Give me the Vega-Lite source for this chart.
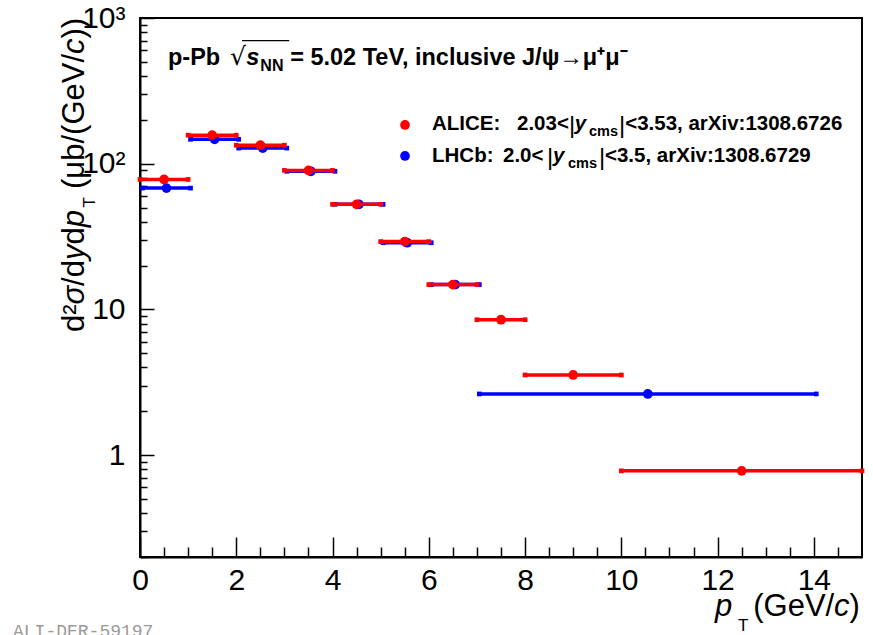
{
  "$schema": "https://vega.github.io/schema/vega-lite/v6.json",
  "width": 722,
  "height": 539,
  "autosize": {"type": "none"},
  "padding": {"left": 140, "top": 18, "right": 11, "bottom": 78},
  "background": "white",
  "config": {
    "view": {"stroke": "black", "strokeWidth": 2},
    "font": "Liberation Sans"
  },
  "resolve": {"axis": {"x": "independent", "y": "independent"}},
  "data": {
    "values": [
      {"exp": "LHCb", "x": 0.55, "lo": 0.05, "hi": 1.05, "y": 68},
      {"exp": "LHCb", "x": 1.55, "lo": 1.05, "hi": 2.05, "y": 147},
      {"exp": "LHCb", "x": 2.55, "lo": 2.05, "hi": 3.05, "y": 128},
      {"exp": "LHCb", "x": 3.55, "lo": 3.05, "hi": 4.05, "y": 88.7},
      {"exp": "LHCb", "x": 4.55, "lo": 4.05, "hi": 5.05, "y": 52.6},
      {"exp": "LHCb", "x": 5.55, "lo": 5.05, "hi": 6.05, "y": 28.7},
      {"exp": "LHCb", "x": 6.55, "lo": 6.05, "hi": 7.05, "y": 14.8},
      {"exp": "LHCb", "x": 10.55, "lo": 7.05, "hi": 14.05, "y": 2.63},
      {"exp": "ALICE", "x": 0.5, "lo": 0, "hi": 1, "y": 78},
      {"exp": "ALICE", "x": 1.5, "lo": 1, "hi": 2, "y": 157},
      {"exp": "ALICE", "x": 2.5, "lo": 2, "hi": 3, "y": 134},
      {"exp": "ALICE", "x": 3.5, "lo": 3, "hi": 4, "y": 90},
      {"exp": "ALICE", "x": 4.5, "lo": 4, "hi": 5, "y": 52.6},
      {"exp": "ALICE", "x": 5.5, "lo": 5, "hi": 6, "y": 29.2},
      {"exp": "ALICE", "x": 6.5, "lo": 6, "hi": 7, "y": 14.8},
      {"exp": "ALICE", "x": 7.5, "lo": 7, "hi": 8, "y": 8.5},
      {"exp": "ALICE", "x": 9, "lo": 8, "hi": 10, "y": 3.55},
      {"exp": "ALICE", "x": 12.5, "lo": 10, "hi": 15, "y": 0.78}
    ]
  },
  "layer": [
    {
      "transform": [{"filter": "datum.exp == 'LHCb'"}],
      "mark": {"type": "rule", "color": "#0000ff", "strokeWidth": 3.5},
      "encoding": {
        "x": {"field": "lo", "type": "quantitative", "title": null,
          "scale": {"domain": [0, 15], "nice": false, "zero": false},
          "axis": {
            "orient": "bottom",
            "values": [0, 2, 4, 6, 8, 10, 12, 14],
            "format": "d",
            "labelOverlap": false, "labelFlush": false, "labelBound": false,
            "labelFont": "Liberation Sans", "labelFontSize": 30, "labelColor": "black",
            "labelPadding": 28,
            "tickSize": -20,
            "tickColor": "black", "tickWidth": 1.5,
            "domainColor": "black", "domainWidth": 2, "grid": false, "title": null
          }
        },
        "x2": {"field": "hi"},
        "y": {"field": "y", "type": "quantitative", "title": null,
          "scale": {"type": "log", "domain": [0.2, 1000], "nice": false},
          "axis": {
            "orient": "left",
            "values": [1, 10, 100, 1000],
            "labelExpr": "datum.value == 1 ? '1' : datum.value == 10 ? '10' : datum.value == 100 ? '10²' : '10³'",
            "labelOverlap": false, "labelFlush": false, "labelBound": false,
            "labelFont": "Liberation Sans", "labelFontSize": 30, "labelColor": "black",
            "labelPadding": 29,
            "tickSize": -14,
            "tickColor": "black", "tickWidth": 1.5,
            "domainColor": "black", "domainWidth": 2, "grid": false, "title": null
          }
        }
      }
    },
    {
      "transform": [{"filter": "datum.exp == 'LHCb'"}, {"fold": ["lo", "hi"], "as": ["end", "xe"]}],
      "mark": {"type": "point", "shape": "square", "filled": true, "color": "#0000ff", "size": 22, "opacity": 1},
      "encoding": {
        "x": {"field": "xe", "type": "quantitative", "axis": null},
        "y": {"field": "y", "type": "quantitative", "axis": null}
      }
    },
    {
      "transform": [{"filter": "datum.exp == 'LHCb'"}],
      "mark": {"type": "point", "shape": "circle", "filled": true, "color": "#0000ff", "size": 95, "opacity": 1},
      "encoding": {
        "x": {"field": "x", "type": "quantitative", "axis": null},
        "y": {"field": "y", "type": "quantitative", "axis": null}
      }
    },
    {
      "transform": [{"filter": "datum.exp == 'ALICE'"}],
      "mark": {"type": "rule", "color": "#ff0000", "strokeWidth": 3.5},
      "encoding": {
        "x": {"field": "lo", "type": "quantitative", "title": null,
          "axis": {
            "orient": "bottom",
            "values": [0.5,1,1.5,2.5,3,3.5,4.5,5,5.5,6.5,7,7.5,8.5,9,9.5,10.5,11,11.5,12.5,13,13.5,14.5],
            "labels": false, "domain": false, "grid": false, "title": null,
            "tickSize": -10, "tickColor": "black", "tickWidth": 1.5
          }
        },
        "x2": {"field": "hi"},
        "y": {"field": "y", "type": "quantitative", "title": null,
          "axis": {
            "orient": "left",
            "values": [0.2,0.3,0.4,0.5,0.6,0.7,0.8,0.9,2,3,4,5,6,7,8,9,20,30,40,50,60,70,80,90,200,300,400,500,600,700,800,900],
            "labels": false, "domain": false, "grid": false, "title": null,
            "tickSize": -7, "tickColor": "black", "tickWidth": 1.5
          }
        }
      }
    },
    {
      "transform": [{"filter": "datum.exp == 'ALICE'"}, {"fold": ["lo", "hi"], "as": ["end", "xe"]}],
      "mark": {"type": "point", "shape": "square", "filled": true, "color": "#ff0000", "size": 22, "opacity": 1},
      "encoding": {
        "x": {"field": "xe", "type": "quantitative", "axis": null},
        "y": {"field": "y", "type": "quantitative", "axis": null}
      }
    },
    {
      "transform": [{"filter": "datum.exp == 'ALICE'"}],
      "mark": {"type": "point", "shape": "circle", "filled": true, "color": "#ff0000", "size": 95, "opacity": 1},
      "encoding": {
        "x": {"field": "x", "type": "quantitative", "axis": null},
        "y": {"field": "y", "type": "quantitative", "axis": null}
      }
    },
    {
      "data": {"values": [{}]},
      "mark": {"type": "point", "shape": "circle", "filled": true, "color": "#ff0000", "size": 95, "opacity": 1},
      "encoding": {"x": {"datum": 5.506, "axis": null}, "y": {"datum": 184.4, "axis": null}}
    },
    {
      "data": {"values": [{}]},
      "mark": {"type": "point", "shape": "circle", "filled": true, "color": "#0000ff", "size": 95, "opacity": 1},
      "encoding": {"x": {"datum": 5.506, "axis": null}, "y": {"datum": 113, "axis": null}}
    },
    {
      "data": {"values": [{}]},
      "mark": {"type": "text", "text": "p-Pb", "align": "left", "baseline": "alphabetic", "fontSize": 23.5, "fontWeight": "bold"},
      "encoding": {"x": {"datum": 0.582, "axis": null}, "y": {"datum": 475.7, "axis": null}}
    },
    {
      "data": {"values": [{}]},
      "mark": {"type": "text", "text": "√", "align": "left", "baseline": "alphabetic", "fontSize": 25, "font": "DejaVu Sans"},
      "encoding": {"x": {"datum": 1.87, "axis": null}, "y": {"datum": 475.7, "axis": null}}
    },
    {
      "data": {"values": [{}]},
      "mark": {"type": "rule", "color": "black", "strokeWidth": 1.2},
      "encoding": {"x": {"datum": 2.12, "axis": null}, "x2": {"datum": 3.1}, "y": {"datum": 700, "axis": null}}
    },
    {
      "data": {"values": [{}]},
      "mark": {"type": "text", "text": "s", "align": "left", "baseline": "alphabetic", "fontSize": 23.5, "fontWeight": "bold", "fontStyle": "italic"},
      "encoding": {"x": {"datum": 2.21, "axis": null}, "y": {"datum": 475.7, "axis": null}}
    },
    {
      "data": {"values": [{}]},
      "mark": {"type": "text", "text": "NN", "align": "left", "baseline": "alphabetic", "fontSize": 16, "fontWeight": "bold"},
      "encoding": {"x": {"datum": 2.5, "axis": null}, "y": {"datum": 435, "axis": null}}
    },
    {
      "data": {"values": [{}]},
      "mark": {"type": "text", "text": "= 5.02 TeV, inclusive J/ψ→μ⁺μ⁻", "align": "left", "baseline": "alphabetic", "fontSize": 23.5, "fontWeight": "bold"},
      "encoding": {"x": {"datum": 3.12, "axis": null}, "y": {"datum": 475.7, "axis": null}}
    },
    {
      "data": {"values": [{}]},
      "mark": {"type": "text", "text": "ALICE:", "align": "left", "baseline": "alphabetic", "fontSize": 20.5, "fontWeight": "bold"},
      "encoding": {"x": {"datum": 6.067, "axis": null}, "y": {"datum": 170.4, "axis": null}}
    },
    {
      "data": {"values": [{}]},
      "mark": {"type": "text", "text": "2.03<", "align": "left", "baseline": "alphabetic", "fontSize": 20.5, "fontWeight": "bold"},
      "encoding": {"x": {"datum": 7.832, "axis": null}, "y": {"datum": 170.4, "axis": null}}
    },
    {
      "data": {"values": [{}]},
      "mark": {"type": "text", "text": "|", "align": "left", "baseline": "alphabetic", "fontSize": 24},
      "encoding": {"x": {"datum": 8.913, "axis": null}, "y": {"datum": 163, "axis": null}}
    },
    {
      "data": {"values": [{}]},
      "mark": {"type": "text", "text": "y", "align": "left", "baseline": "alphabetic", "fontSize": 20.5, "fontWeight": "bold", "fontStyle": "italic"},
      "encoding": {"x": {"datum": 9.03, "axis": null}, "y": {"datum": 170.4, "axis": null}}
    },
    {
      "data": {"values": [{}]},
      "mark": {"type": "text", "text": "cms", "align": "left", "baseline": "alphabetic", "fontSize": 14.5, "fontWeight": "bold"},
      "encoding": {"x": {"datum": 9.328, "axis": null}, "y": {"datum": 155, "axis": null}}
    },
    {
      "data": {"values": [{}]},
      "mark": {"type": "text", "text": "|", "align": "left", "baseline": "alphabetic", "fontSize": 24},
      "encoding": {"x": {"datum": 9.952, "axis": null}, "y": {"datum": 163, "axis": null}}
    },
    {
      "data": {"values": [{}]},
      "mark": {"type": "text", "text": "<3.53, arXiv:1308.6726", "align": "left", "baseline": "alphabetic", "fontSize": 20.5, "fontWeight": "bold"},
      "encoding": {"x": {"datum": 10.08, "axis": null}, "y": {"datum": 170.4, "axis": null}}
    },
    {
      "data": {"values": [{}]},
      "mark": {"type": "text", "text": "LHCb:", "align": "left", "baseline": "alphabetic", "fontSize": 20.5, "fontWeight": "bold"},
      "encoding": {"x": {"datum": 6.067, "axis": null}, "y": {"datum": 102.8, "axis": null}}
    },
    {
      "data": {"values": [{}]},
      "mark": {"type": "text", "text": "2.0<", "align": "left", "baseline": "alphabetic", "fontSize": 20.5, "fontWeight": "bold"},
      "encoding": {"x": {"datum": 7.542, "axis": null}, "y": {"datum": 102.8, "axis": null}}
    },
    {
      "data": {"values": [{}]},
      "mark": {"type": "text", "text": "|", "align": "left", "baseline": "alphabetic", "fontSize": 24},
      "encoding": {"x": {"datum": 8.456, "axis": null}, "y": {"datum": 97.5, "axis": null}}
    },
    {
      "data": {"values": [{}]},
      "mark": {"type": "text", "text": "y", "align": "left", "baseline": "alphabetic", "fontSize": 20.5, "fontWeight": "bold", "fontStyle": "italic"},
      "encoding": {"x": {"datum": 8.58, "axis": null}, "y": {"datum": 102.8, "axis": null}}
    },
    {
      "data": {"values": [{}]},
      "mark": {"type": "text", "text": "cms", "align": "left", "baseline": "alphabetic", "fontSize": 14.5, "fontWeight": "bold"},
      "encoding": {"x": {"datum": 8.892, "axis": null}, "y": {"datum": 93.5, "axis": null}}
    },
    {
      "data": {"values": [{}]},
      "mark": {"type": "text", "text": "|", "align": "left", "baseline": "alphabetic", "fontSize": 24},
      "encoding": {"x": {"datum": 9.536, "axis": null}, "y": {"datum": 97.5, "axis": null}}
    },
    {
      "data": {"values": [{}]},
      "mark": {"type": "text", "text": "<3.5, arXiv:1308.6729", "align": "left", "baseline": "alphabetic", "fontSize": 20.5, "fontWeight": "bold"},
      "encoding": {"x": {"datum": 9.66, "axis": null}, "y": {"datum": 102.8, "axis": null}}
    },
    {
      "data": {"values": [{}]},
      "mark": {"type": "text", "text": "p", "align": "left", "baseline": "alphabetic", "fontSize": 31, "fontStyle": "italic"},
      "encoding": {"x": {"datum": 11.946, "axis": null}, "y": {"datum": 0.0788, "axis": null}}
    },
    {
      "data": {"values": [{}]},
      "mark": {"type": "text", "text": "T", "align": "left", "baseline": "alphabetic", "fontSize": 17},
      "encoding": {"x": {"datum": 12.424, "axis": null}, "y": {"datum": 0.0622, "axis": null}}
    },
    {
      "data": {"values": [{}]},
      "mark": {"type": "text", "text": "(GeV/", "align": "left", "baseline": "alphabetic", "fontSize": 31},
      "encoding": {"x": {"datum": 12.74, "axis": null}, "y": {"datum": 0.0788, "axis": null}}
    },
    {
      "data": {"values": [{}]},
      "mark": {"type": "text", "text": "c", "align": "left", "baseline": "alphabetic", "fontSize": 31, "fontStyle": "italic"},
      "encoding": {"x": {"datum": 14.42, "axis": null}, "y": {"datum": 0.0788, "axis": null}}
    },
    {
      "data": {"values": [{}]},
      "mark": {"type": "text", "text": ")", "align": "left", "baseline": "alphabetic", "fontSize": 31},
      "encoding": {"x": {"datum": 14.74, "axis": null}, "y": {"datum": 0.0788, "axis": null}}
    },
    {
      "data": {"values": [{}]},
      "mark": {"type": "text", "text": "d²", "angle": 270, "align": "left", "baseline": "alphabetic", "fontSize": 31},
      "encoding": {"x": {"datum": -1.163, "axis": null}, "y": {"datum": 7.003, "axis": null}}
    },
    {
      "data": {"values": [{}]},
      "mark": {"type": "text", "text": "σ", "angle": 270, "align": "left", "baseline": "alphabetic", "fontSize": 31, "fontStyle": "italic"},
      "encoding": {"x": {"datum": -1.163, "axis": null}, "y": {"datum": 10.83, "axis": null}}
    },
    {
      "data": {"values": [{}]},
      "mark": {"type": "text", "text": "/d", "angle": 270, "align": "left", "baseline": "alphabetic", "fontSize": 31},
      "encoding": {"x": {"datum": -1.163, "axis": null}, "y": {"datum": 14.49, "axis": null}}
    },
    {
      "data": {"values": [{}]},
      "mark": {"type": "text", "text": "y", "angle": 270, "align": "left", "baseline": "alphabetic", "fontSize": 31, "fontStyle": "italic"},
      "encoding": {"x": {"datum": -1.163, "axis": null}, "y": {"datum": 21.85, "axis": null}}
    },
    {
      "data": {"values": [{}]},
      "mark": {"type": "text", "text": "d", "angle": 270, "align": "left", "baseline": "alphabetic", "fontSize": 31},
      "encoding": {"x": {"datum": -1.163, "axis": null}, "y": {"datum": 27.91, "axis": null}}
    },
    {
      "data": {"values": [{}]},
      "mark": {"type": "text", "text": "p", "angle": 270, "align": "left", "baseline": "alphabetic", "fontSize": 31, "fontStyle": "italic"},
      "encoding": {"x": {"datum": -1.163, "axis": null}, "y": {"datum": 36.63, "axis": null}}
    },
    {
      "data": {"values": [{}]},
      "mark": {"type": "text", "text": "T", "angle": 270, "align": "left", "baseline": "alphabetic", "fontSize": 17},
      "encoding": {"x": {"datum": -0.93, "axis": null}, "y": {"datum": 50, "axis": null}}
    },
    {
      "data": {"values": [{}]},
      "mark": {"type": "text", "text": "(μb/(GeV/", "angle": 270, "align": "left", "baseline": "alphabetic", "fontSize": 31},
      "encoding": {"x": {"datum": -1.163, "axis": null}, "y": {"datum": 67.1, "axis": null}}
    },
    {
      "data": {"values": [{}]},
      "mark": {"type": "text", "text": "c", "angle": 270, "align": "left", "baseline": "alphabetic", "fontSize": 31, "fontStyle": "italic"},
      "encoding": {"x": {"datum": -1.163, "axis": null}, "y": {"datum": 566, "axis": null}}
    },
    {
      "data": {"values": [{}]},
      "mark": {"type": "text", "text": "))", "angle": 270, "align": "left", "baseline": "alphabetic", "fontSize": 31},
      "encoding": {"x": {"datum": -1.163, "axis": null}, "y": {"datum": 723.5, "axis": null}}
    },
    {
      "data": {"values": [{}]},
      "mark": {"type": "text", "text": "ALI-DER-59197", "align": "left", "baseline": "alphabetic", "fontSize": 18, "font": "Liberation Mono", "color": "#9a9a9a"},
      "encoding": {"x": {"datum": -2.639, "axis": null}, "y": {"datum": 0.0566, "axis": null}}
    }
  ]
}
